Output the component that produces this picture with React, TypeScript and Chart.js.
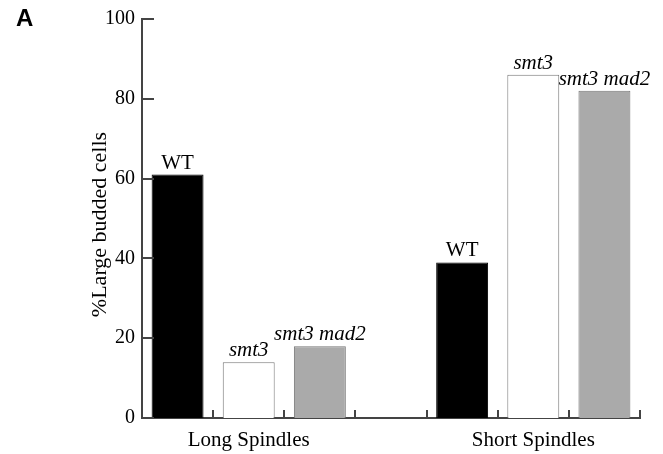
import React, { useEffect, useRef } from "react";
import { Chart, registerables } from "chart.js";

Chart.register(...registerables);

const groups = ["Long Spindles", "Short Spindles"];
const strains = ["WT", "smt3", "smt3 mad2"];
const longSpindles = [61, 14, 18];
const shortSpindles = [39, 86, 82];
const strainFill = ["#000000", "#ffffff", "#aaaaaa"];
const strainBorder = ["#000000", "#777777", "#777777"];
const strainItalic = [false, true, true];
const yTicks = [0, 20, 40, 60, 80, 100];
const yTitle = "%Large budded cells";
const panelLetter = "A";

// 7 slots: long group (3), empty gap, short group (3)
const slotLabels = ["", groups[0], "", "", "", groups[1], ""];
const slotValues: (number | null)[] = [...longSpindles, null, ...shortSpindles];
const slotStrain: (number | null)[] = [0, 1, 2, null, 0, 1, 2];

const SERIF = "'Liberation Serif', 'Times New Roman', serif";

const decorPlugin = {
  id: "decor",
  afterDraw(chart: any) {
    const ctx = chart.ctx;
    const area = chart.chartArea;
    const xs = chart.scales.x;
    const ys = chart.scales.y;
    ctx.save();
    // y tick marks (inward)
    ctx.strokeStyle = "#444444";
    ctx.lineWidth = 2;
    yTicks.forEach((v) => {
      const y = Math.round(ys.getPixelForValue(v));
      ctx.beginPath();
      ctx.moveTo(area.left, y);
      ctx.lineTo(area.left + 12, y);
      ctx.stroke();
    });
    // x tick marks at slot boundaries (inward)
    const slotW = xs.getPixelForValue(1) - xs.getPixelForValue(0);
    for (let i = 0; i < slotLabels.length; i++) {
      const x = Math.round(xs.getPixelForValue(i) + slotW / 2);
      ctx.beginPath();
      ctx.moveTo(x, area.bottom);
      ctx.lineTo(x, area.bottom - 8);
      ctx.stroke();
    }
    // bar labels
    const meta = chart.getDatasetMeta(0);
    meta.data.forEach((bar: any, i: number) => {
      const s = slotStrain[i];
      if (s === null || slotValues[i] === null) return;
      ctx.fillStyle = "#000000";
      ctx.font = (strainItalic[s] ? "italic " : "") + "21px " + SERIF;
      ctx.textAlign = "center";
      ctx.textBaseline = "alphabetic";
      ctx.fillText(strains[s], bar.x, bar.y - 6);
    });
    // y title
    ctx.save();
    ctx.translate(area.left - 42, (area.top + area.bottom) / 2 + 6);
    ctx.rotate(-Math.PI / 2);
    ctx.font = "22px " + SERIF;
    ctx.textAlign = "center";
    ctx.textBaseline = "middle";
    ctx.fillStyle = "#000000";
    ctx.fillText(yTitle, 0, 0);
    ctx.restore();
    // panel letter
    ctx.font = "bold 24px 'Liberation Sans', Arial, sans-serif";
    ctx.textAlign = "left";
    ctx.textBaseline = "top";
    ctx.fillStyle = "#000000";
    ctx.fillText(panelLetter, 16, 7);
    ctx.restore();
  },
};

export default function App() {
  const ref = useRef<HTMLCanvasElement>(null);
  useEffect(() => {
    if (!ref.current) return;
    const chart = new Chart(ref.current, {
      type: "bar",
      data: {
        labels: slotLabels,
        datasets: [
          {
            data: slotValues,
            backgroundColor: slotStrain.map((s) => (s === null ? "#000" : strainFill[s])),
            borderColor: slotStrain.map((s) => (s === null ? "#000" : strainBorder[s])),
            borderWidth: 1,
            categoryPercentage: 1,
            barPercentage: 0.73,
          },
        ],
      },
      options: {
        responsive: false,
        animation: false,
        events: [],
        layout: { padding: { top: 18, right: 23, left: 0, bottom: 0 } },
        plugins: { legend: { display: false }, tooltip: { enabled: false }, title: { display: false } },
        scales: {
          x: {
            grid: { display: false, drawTicks: false },
            border: { display: true, color: "#444444", width: 2 },
            ticks: {
              color: "#000000",
              font: { family: SERIF, size: 21 },
              maxRotation: 0,
              minRotation: 0,
              autoSkip: false,
              padding: 10,
            },
            afterFit: (scale: any) => {
              scale.height = 36;
            },
          },
          y: {
            min: 0,
            max: 100,
            grid: { display: false, drawTicks: false },
            border: { display: true, color: "#444444", width: 2 },
            afterBuildTicks: (scale: any) => {
              scale.ticks = yTicks.map((v) => ({ value: v }));
            },
            ticks: {
              color: "#000000",
              font: { family: SERIF, size: 20 },
              padding: 7,
            },
            afterFit: (scale: any) => {
              scale.width = 142;
            },
          },
        },
      },
      plugins: [decorPlugin],
    });
    return () => chart.destroy();
  }, []);
  return (
    <div style={{ position: "absolute", left: 0, top: 0, width: 663, height: 454, background: "#fff" }}>
      <canvas ref={ref} width={663} height={454} />
    </div>
  );
}
